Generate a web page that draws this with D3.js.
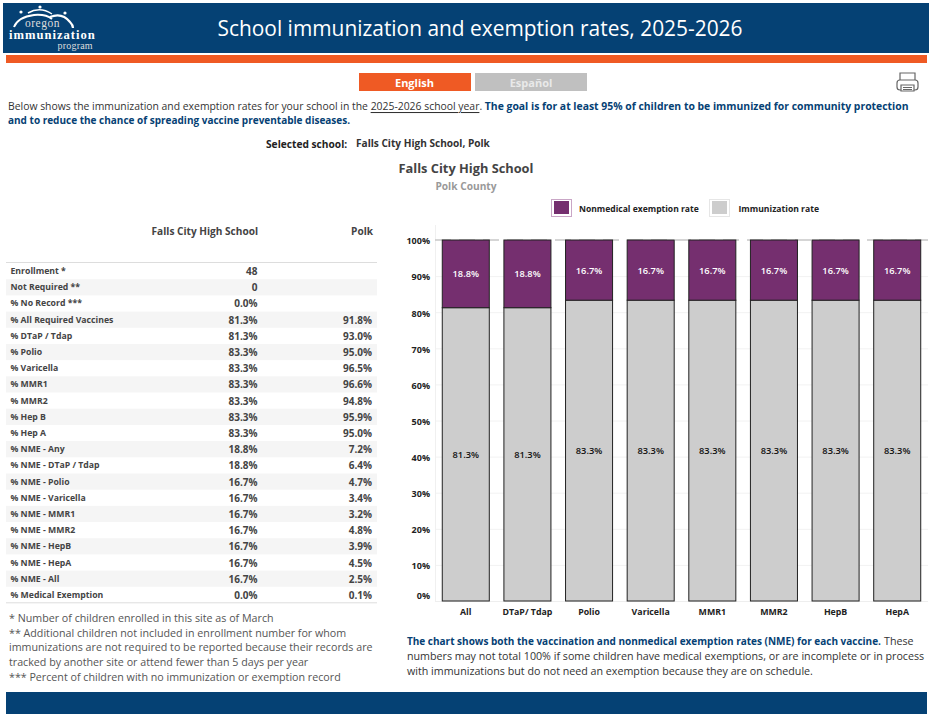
<!DOCTYPE html>
<html><head><meta charset="utf-8">
<script src="https://cdn.jsdelivr.net/npm/d3@7"></script>
<style>html,body{margin:0;padding:0;background:#fff;overflow:hidden}svg{display:block}text{font-family:"Open Sans",sans-serif}</style>
</head><body><svg id="c" width="929" height="717"></svg>
<script>
const vaccines=["All","DTaP/ Tdap","Polio","Varicella","MMR1","MMR2","HepB","HepA"];
const immunizationRate=[81.25,81.25,83.33,83.33,83.33,83.33,83.33,83.33];
const exemptionRate=[18.75,18.75,16.67,16.67,16.67,16.67,16.67,16.67];
const yTicks=[0,10,20,30,40,50,60,70,80,90,100];
const rowLabels=["Enrollment *","Not Required **","% No Record ***","% All Required Vaccines","% DTaP / Tdap","% Polio","% Varicella","% MMR1","% MMR2","% Hep B","% Hep A","% NME - Any","% NME - DTaP / Tdap","% NME - Polio","% NME - Varicella","% NME - MMR1","% NME - MMR2","% NME - HepB","% NME - HepA","% NME - All","% Medical Exemption"];
const schoolValues=["48","0","0.0%","81.3%","81.3%","83.3%","83.3%","83.3%","83.3%","83.3%","83.3%","18.8%","18.8%","16.7%","16.7%","16.7%","16.7%","16.7%","16.7%","16.7%","0.0%"];
const countyValues=["","","","91.8%","93.0%","95.0%","96.5%","96.6%","94.8%","95.9%","95.0%","7.2%","6.4%","4.7%","3.4%","3.2%","4.8%","3.9%","4.5%","2.5%","0.1%"];
const footnotes=["* Number of children enrolled in this site as of March","** Additional children not included in enrollment number for whom","immunizations are not required to be reported because their records are","tracked by another site or attend fewer than 5 days per year","*** Percent of children with no immunization or exemption record"];

const NAVY="#054174",ORANGE="#EF5A24",PURPLE="#752F6F",GREY="#CDCDCD";
const svg=d3.select("#c");
function T(x,y,s,size,o={}){
  return svg.append("text").attr("x",x).attr("y",y).attr("font-size",size)
    .attr("font-weight",o.w||400).attr("fill",o.c||"#333").attr("text-anchor",o.a||"start")
    .attr("letter-spacing",o.ls||null).attr("dominant-baseline","central").text(s);
}
function R(x,y,w,h,f){return svg.append("rect").attr("x",x).attr("y",y).attr("width",w).attr("height",h).attr("fill",f);}

// header
R(3,3,926,50,NAVY);
R(6,55,921,8,ORANGE);
R(6,692,921,22,NAVY);
T(480,28,"School immunization and exemption rates, 2025-2026",20.9,{c:"#fff",a:"middle"});
// logo
const logo=svg.append("g").attr("fill","none").attr("stroke","#fff");
logo.append("path").attr("d","M28 13 Q40 6 52 14").attr("stroke-width",1.5);
logo.append("path").attr("d","M50 17 Q62 12 70 22 Q73 25 73 28").attr("stroke-width",2.2);
logo.append("path").attr("d","M14 27 Q18 17 34 15 Q46 14 52 19").attr("stroke-width",2);
[[21,12],[40,7],[65,13]].forEach(p=>svg.append("circle").attr("cx",p[0]).attr("cy",p[1]).attr("r",1.6).attr("fill","#fff"));
svg.append("text").attr("x",25).attr("y",26.5).attr("font-size",11.5).attr("letter-spacing",.5).attr("fill","#ddd").style("font-family","'Liberation Serif',serif").text("oregon");
svg.append("text").attr("x",9).attr("y",38.8).attr("font-size",12.6).attr("font-weight",700).attr("letter-spacing",1).attr("fill","#fff").style("font-family","'Liberation Serif',serif").text("immunization");
svg.append("text").attr("x",57.5).attr("y",49).attr("font-size",10).attr("letter-spacing",.2).attr("fill","#ddd").style("font-family","'Liberation Serif',serif").text("program");

// language buttons
R(359,73,112,18,ORANGE);
R(475,73,112,18,"#C0C0C0");
T(414.5,82,"English",11,{c:"#fff",w:700,a:"middle"});
T(531,82,"Español",11,{c:"#e9e9e9",w:700,a:"middle"});
// printer
const pr=svg.append("g").attr("fill","none").attr("stroke","#666").attr("stroke-width",1.2);
pr.append("path").attr("d","M900 80 V73 H915 V80");
pr.append("rect").attr("x",897).attr("y",80).attr("width",21).attr("height",10).attr("rx",3);
pr.append("path").attr("d","M901 85 H914 V91 H901 Z").attr("fill","#fff");
pr.append("path").attr("d","M903 87.5 H912 M903 89.5 H912");

// intro
const intro=svg.append("text").attr("x",8).attr("y",106).attr("font-size",10.4).attr("dominant-baseline","central").attr("fill","#333");
intro.append("tspan").text("Below shows the immunization and exemption rates for your school in the ");
intro.append("tspan").attr("text-decoration","underline").text("2025-2026 school year");
intro.append("tspan").text(". ");
intro.append("tspan").attr("font-weight",700).attr("fill",NAVY).text("The goal is for at least 95% of children to be immunized for community protection");
T(8,120,"and to reduce the chance of spreading vaccine preventable diseases.",10,{w:700,c:NAVY});
T(266,144,"Selected school:",10.2,{w:700,c:"#222"});
T(356,143,"Falls City High School, Polk",10.1,{w:700,c:"#333"});
T(466,168,"Falls City High School",12.8,{w:700,a:"middle",c:"#444"});
T(466,186,"Polk County",10.2,{w:700,a:"middle",c:"#999"});

// legend
svg.append("rect").attr("x",551.5).attr("y",199.5).attr("width",20).attr("height",17).attr("fill","#fff").attr("stroke","#c9a6c6");
R(554,201,15,13,PURPLE);
T(579,208.5,"Nonmedical exemption rate",8.55,{w:700,c:"#222"});
svg.append("rect").attr("x",709.5).attr("y",199.5).attr("width",20).attr("height",17).attr("fill","#fff").attr("stroke","#e6e6e6");
R(712,201,15,13,GREY);
T(738.5,208.5,"Immunization rate",8.6,{w:700,c:"#222"});

// table
const rowY=d3.scaleBand().domain(d3.range(rowLabels.length)).range([263,603]);
T(258,231,"Falls City High School",10.1,{w:700,a:"end",c:"#444"});
T(373,231,"Polk",10.1,{w:700,a:"end",c:"#444"});
svg.append("g").selectAll("rect").data(d3.range(rowLabels.length).filter(i=>i%2==1)).join("rect")
  .attr("x",6).attr("width",371).attr("y",i=>rowY(i)).attr("height",rowY.bandwidth()).attr("fill","#F5F5F5");
svg.append("g").selectAll("line").data([262.5,602.8]).join("line").attr("x1",6).attr("x2",377).attr("y1",d=>d).attr("y2",d=>d).attr("stroke","#ddd").attr("stroke-width",1);
rowLabels.forEach((l,i)=>{
  const y=rowY(i)+rowY.bandwidth()/2;
  T(10.5,y,l,8.7,{w:700,c:"#444"});
  T(257.5,y,schoolValues[i],10,{w:700,a:"end",c:"#444"});
  if(countyValues[i])T(372,y,countyValues[i],10,{w:700,a:"end",c:"#444"});
});
footnotes.forEach((f,i)=>T(9,[618,633,647,662,677][i],f,10.7,{c:"#555"}));

// chart
const y=d3.scaleLinear().domain([0,100]).range([601,240]);
const x=d3.scaleBand().domain(vaccines).range([435,928]).paddingInner(.237).paddingOuter(.118);
const grid=svg.append("g");
grid.selectAll("line").data(yTicks.filter(t=>t>0&&t<100)).join("line")
  .attr("x1",435).attr("x2",928).attr("y1",d=>y(d)+.5).attr("y2",d=>y(d)+.5).attr("stroke","#f2f2f2");
svg.append("line").attr("x1",435.5).attr("x2",435.5).attr("y1",225).attr("y2",601).attr("stroke","#f0f0f0");
svg.append("line").attr("x1",435).attr("x2",928).attr("y1",601.5).attr("y2",601.5).attr("stroke","#eee");
svg.append("line").attr("x1",435).attr("x2",928).attr("y1",240).attr("y2",240).attr("stroke","#c8c8c8").attr("stroke-width",1.5).attr("stroke-dasharray","16 8");
const tickY=d=>d===0?y(d)-5.5:d===100?y(d):y(d)+.8;
yTicks.forEach(t=>T(430,tickY(t),t+"%",9,{w:700,a:"end",c:"#222"}));
const stacked=d3.stack().keys(["imm","nme"])(vaccines.map((v,i)=>({v,imm:immunizationRate[i],nme:exemptionRate[i]})));
const colors={imm:GREY,nme:PURPLE},labelC={imm:"#111",nme:"#fff"};
stacked.forEach(s=>{
  const g=svg.append("g");
  g.selectAll("rect").data(s).join("rect").attr("x",d=>x(d.data.v)).attr("width",x.bandwidth())
   .attr("y",d=>y(d[1])).attr("height",d=>y(d[0])-y(d[1])).attr("fill",colors[s.key]).attr("stroke","#222").attr("stroke-width",1);
  s.forEach(d=>T(x(d.data.v)+x.bandwidth()/2,(y(d[0])+y(d[1]))/2,d3.format(".1f")(d[1]-d[0])+"%",9.3,{a:"middle",c:labelC[s.key],w:600}));
});
vaccines.forEach(v=>T(x(v)+x.bandwidth()/2,612,v,8.8,{w:700,a:"middle",c:"#222"}));

// chart note
T(407,641,"The chart shows both the vaccination and nonmedical exemption rates (NME) for each vaccine.",10,{w:700,c:NAVY});
T(884,641,"These",10.7,{c:"#333"});
T(407,656,"numbers may not total 100% if some children have medical exemptions, or are incomplete or in process",10.7,{c:"#333"});
T(407,671,"with immunizations but do not need an exemption because they are on schedule.",10.7,{c:"#333"});
</script></body></html>
